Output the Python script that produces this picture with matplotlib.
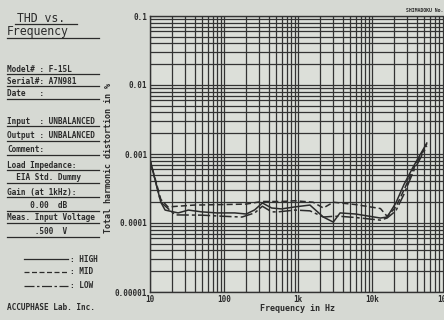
import matplotlib
matplotlib.use("Agg")
import matplotlib.pyplot as plt
from matplotlib.lines import Line2D
from matplotlib.ticker import FixedLocator, FixedFormatter, LogLocator, NullFormatter

# ---------------- data ----------------
high_f = [10, 14, 16, 24, 33, 50, 80, 140, 200, 260, 330, 440, 600, 900, 1450,
          2200, 3000, 3700, 6000, 13000, 16000, 21000, 27000, 36000, 55000]
high_v = [8.2e-4, 2.0e-4, 1.54e-4, 1.40e-4, 1.54e-4, 1.45e-4, 1.40e-4, 1.40e-4, 1.35e-4,
          1.55e-4, 1.95e-4, 1.65e-4, 1.60e-4, 1.71e-4, 1.82e-4, 1.22e-4, 1.03e-4, 1.40e-4,
          1.35e-4, 1.18e-4, 1.22e-4, 1.95e-4, 3.6e-4, 6.5e-4, 1.44e-3]

mid_f = [10, 14, 17.5, 40, 100, 200, 325, 600, 910, 1600, 2200, 3000, 6000, 13000,
         16000, 21000, 27000, 36000, 55000]
mid_v = [8.2e-4, 2.2e-4, 1.71e-4, 1.82e-4, 1.85e-4, 1.88e-4, 2.05e-4, 2.05e-4, 2.1e-4,
         2.0e-4, 1.65e-4, 2.0e-4, 1.85e-4, 1.62e-4, 1.25e-4, 1.7e-4, 3.0e-4, 6.0e-4, 1.4e-3]

low_f = [10, 14, 22, 50, 100, 175, 260, 330, 440, 540, 910, 1450, 2200, 3000, 3700,
         6000, 13000, 16000, 21000, 27000, 36000, 55000]
low_v = [8.2e-4, 2.0e-4, 1.31e-4, 1.30e-4, 1.25e-4, 1.22e-4, 1.40e-4, 1.75e-4, 1.45e-4,
         1.45e-4, 1.54e-4, 1.50e-4, 1.22e-4, 1.25e-4, 1.25e-4, 1.20e-4, 1.10e-4, 1.18e-4,
         1.5e-4, 2.6e-4, 5.5e-4, 1.3e-3]

x_ticks = [10, 100, 1000, 10000, 100000]
x_labels = ["10", "100", "1k", "10k", "100k"]
y_ticks = [1e-5, 1e-4, 1e-3, 1e-2, 1e-1]
y_labels = ["0.00001", "0.0001", "0.001", "0.01", "0.1"]

info_lines = [
    ("Model# : F-15L", 7, 69, 99),
    ("Serial#: A7N981", 7, 81, 99),
    ("Date   :", 7, 94, 99),
    ("Input  : UNBALANCED", 7, 121, 99),
    ("Output : UNBALANCED", 7, 136, 99),
    ("Comment:", 7, 150, 99),
    ("Load Impedance:", 7, 165, 99),
    ("  EIA Std. Dummy", 7, 178, 99),
    ("Gain (at 1kHz):", 7, 192, 99),
    ("     0.00  dB", 7, 206, 99),
    ("Meas. Input Voltage", 7, 218, 99),
    ("      .500  V", 7, 232, 99),
]

# ---------------- figure ----------------
W, H = 444, 320
BG = "#d6d9d3"
INK = "#2b2b2b"
fig = plt.figure(figsize=(W / 100, H / 100), dpi=100, facecolor=BG)
mono = "DejaVu Sans Mono"

def fx(px):
    return px / W

def fy(py):
    return 1 - py / H

ax = fig.add_axes([fx(150), fy(292), (446 - 150) / W, (292 - 16) / H])
ax.set_facecolor("#dcdfd9")
ax.set_xscale("log")
ax.set_yscale("log")
ax.set_xlim(10, 100000)
ax.set_ylim(1e-5, 1e-1)

ax.xaxis.set_major_locator(FixedLocator(x_ticks))
ax.xaxis.set_major_formatter(FixedFormatter(x_labels))
ax.yaxis.set_major_locator(FixedLocator(y_ticks))
ax.yaxis.set_major_formatter(FixedFormatter(y_labels))
ax.xaxis.set_minor_locator(LogLocator(base=10, subs=range(2, 10), numticks=20))
ax.yaxis.set_minor_locator(LogLocator(base=10, subs=range(2, 10), numticks=20))
ax.xaxis.set_minor_formatter(NullFormatter())
ax.yaxis.set_minor_formatter(NullFormatter())
ax.grid(True, which="both", color="#333333", linewidth=0.9)
ax.tick_params(which="both", length=0, labelsize=5.5, colors=INK, pad=2)
for lab in ax.get_xticklabels() + ax.get_yticklabels():
    lab.set_fontfamily(mono)
    lab.set_fontweight("bold")
for s in ax.spines.values():
    s.set_color("#333333")
    s.set_linewidth(1.0)

lw = 1.1
ax.plot(high_f, high_v, color=INK, lw=lw, linestyle="-")
ax.plot(mid_f, mid_v, color=INK, lw=lw, linestyle=(0, (4, 2)))
ax.plot(low_f, low_v, color=INK, lw=lw, linestyle=(0, (8, 2, 2, 2)))

ax.set_xlabel("Frequency in Hz", fontsize=6, family=mono, fontweight="bold",
              color=INK, labelpad=0)
fig.text(fx(108), fy(158), "Total harmonic distortion in %", rotation=90,
         ha="center", va="center", fontsize=6, family=mono, fontweight="bold",
         color=INK)
fig.text(fx(443), fy(10), "SHIMADOKU No.", ha="right", va="center",
         fontsize=3.5, family=mono, fontweight="bold", color=INK)

# ---------------- left panel ----------------
def uline(x0, x1, y):
    fig.add_artist(Line2D([fx(x0), fx(x1)], [fy(y), fy(y)], color=INK, lw=0.9))

fig.text(fx(17), fy(18), "THD vs.", ha="left", va="center", fontsize=8.3,
         family=mono, color=INK)
uline(15, 77, 24)
fig.text(fx(7), fy(32), "Frequency", ha="left", va="center", fontsize=8.3,
         family=mono, color=INK)
uline(7, 99, 38)

for txt, x, y, x1 in info_lines:
    fig.text(fx(x), fy(y), txt, ha="left", va="center", fontsize=5.6,
             family=mono, fontweight="bold", color=INK)
    uline(x, x1, y + 5)

# legend
leg = [("-", 259, ": HIGH"), ((0, (4, 2)), 272, ": MID"),
       ((0, (8, 2, 2, 2)), 286, ": LOW")]
for ls, y, lab in leg:
    fig.add_artist(Line2D([fx(24), fx(68)], [fy(y), fy(y)], color=INK, lw=0.9,
                          linestyle=ls))
    fig.text(fx(70), fy(y), lab, ha="left", va="center", fontsize=5.6,
             family=mono, fontweight="bold", color=INK)

fig.text(fx(7), fy(308), "ACCUPHASE Lab. Inc.", ha="left", va="center",
         fontsize=5.6, family=mono, fontweight="bold", color=INK)

fig.savefig("out.png", dpi=100, facecolor=BG)
